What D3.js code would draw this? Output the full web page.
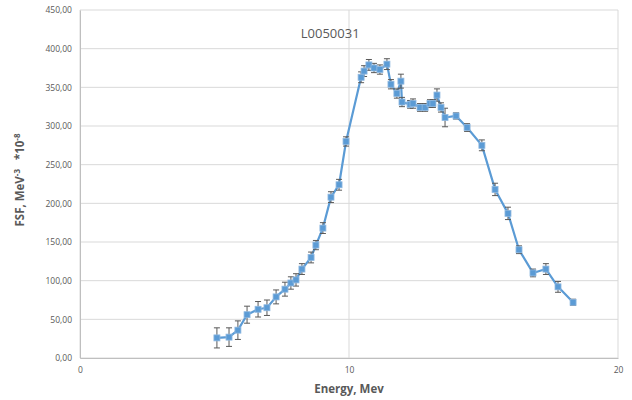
<!DOCTYPE html>
<html>
<head>
<meta charset="utf-8">
<script src="https://cdn.jsdelivr.net/npm/d3@7"></script>
<style>
  body { margin: 0; background: #fff; }
  text { font-family: "Open Sans", "Liberation Sans", sans-serif; }
</style>
</head>
<body>
<div class="chart"></div>
<script>
// data
const energy = [5.09, 5.54, 5.87, 6.21, 6.62, 6.95, 7.29, 7.62, 7.84, 8.03, 8.25, 8.59, 8.77, 9.03, 9.33, 9.63, 9.89,
    10.45, 10.56, 10.74, 10.93, 11.15, 11.41, 11.56, 11.78, 11.93, 11.97, 12.27, 12.38, 12.64, 12.83, 13.01, 13.12,
    13.27, 13.42, 13.57, 13.98, 14.39, 14.94, 15.43, 15.91, 16.32, 16.84, 17.32, 17.77, 18.33];
const fsf = [26, 27, 36, 56, 63, 65, 79, 89, 97, 101, 115, 130, 146, 168, 208, 224, 280,
    363, 371, 379, 375, 373, 380, 354, 342, 358, 331, 328, 329, 324, 324, 329, 329,
    340, 324, 311, 313, 298, 275, 218, 187, 140, 110, 115, 92, 72];
const err = [13, 12, 12, 11, 10, 10, 9, 9, 8, 8, 7, 7, 6, 7, 7, 7, 6,
    7, 7, 7, 6, 6, 7, 6, 6, 9, 6, 5, 6, 5, 5, 5, 5,
    8, 6, 12, 4, 5, 7, 8, 8, 5, 5, 7, 7, 4];
const yTicks = [0, 50, 100, 150, 200, 250, 300, 350, 400, 450];
const xTicks = [0, 10, 20];

const margin = {top: 10, left: 80, right: 14, bottom: 42};
const width = 632 - margin.left - margin.right;
const height = 400 - margin.top - margin.bottom;

const data = energy.map((e, i) => ({e: e, v: fsf[i], err: err[i]}));

const svg = d3.select(".chart").append("svg")
    .attr("width", 632)
    .attr("height", 400)
    .append("g")
    .attr("transform", "translate(" + margin.left + "," + margin.top + ")");

const xScale = d3.scaleLinear().domain([0, 20]).range([0, width]);
const yScale = d3.scaleLinear().domain([0, 450]).range([height, 0]);

// gridlines
svg.append("g").selectAll("line").data(yTicks).join("line")
    .attr("x1", 0).attr("x2", width)
    .attr("y1", d => yScale(d)).attr("y2", d => yScale(d))
    .attr("stroke", "#d9d9d9").attr("stroke-width", 1);

svg.append("g").selectAll("line").data(xTicks).join("line")
    .attr("x1", d => xScale(d)).attr("x2", d => xScale(d))
    .attr("y1", 0).attr("y2", height)
    .attr("stroke", "#d9d9d9").attr("stroke-width", 1);

// axes
const fmt = d => d3.format(".2f")(d).replace(".", ",");
const yAxis = d3.axisLeft(yScale).tickValues(yTicks).tickFormat(fmt).tickSize(0).tickPadding(8);
const xAxis = d3.axisBottom(xScale).tickValues(xTicks).tickFormat(d3.format("d")).tickSize(0).tickPadding(9);

svg.append("g").attr("class", "axis y-axis").call(yAxis);
svg.append("g").attr("class", "axis x-axis")
    .attr("transform", `translate(0, ${height})`).call(xAxis);

svg.selectAll(".axis path").attr("stroke", "#bfbfbf");
svg.selectAll(".axis text").attr("fill", "#595959").attr("font-size", 8.5)
    .attr("font-family", "'Open Sans', sans-serif");

// line
const line = d3.line()
    .x(d => xScale(d.e))
    .y(d => yScale(d.v));

svg.append("path")
    .datum(data)
    .attr("d", line)
    .attr("fill", "none")
    .attr("stroke", "#5b9bd5")
    .attr("stroke-width", 2.2)
    .attr("stroke-linejoin", "round");

// error bars
const eb = svg.append("g").selectAll("g").data(data).join("g")
    .attr("stroke", "#595959").attr("stroke-width", 1);
eb.append("line")
    .attr("x1", d => xScale(d.e)).attr("x2", d => xScale(d.e))
    .attr("y1", d => yScale(d.v - d.err)).attr("y2", d => yScale(d.v + d.err));
eb.append("line")
    .attr("x1", d => xScale(d.e) - 3).attr("x2", d => xScale(d.e) + 3)
    .attr("y1", d => yScale(d.v - d.err)).attr("y2", d => yScale(d.v - d.err));
eb.append("line")
    .attr("x1", d => xScale(d.e) - 3).attr("x2", d => xScale(d.e) + 3)
    .attr("y1", d => yScale(d.v + d.err)).attr("y2", d => yScale(d.v + d.err));

// markers
svg.append("g").selectAll("rect").data(data).join("rect")
    .attr("x", d => xScale(d.e) - 3)
    .attr("y", d => yScale(d.v) - 3)
    .attr("width", 6).attr("height", 6)
    .attr("fill", "#5b9bd5")
    .attr("stroke", "#8fb8e0")
    .attr("stroke-width", 0.8);

// title
svg.append("text")
    .attr("x", xScale(9.3))
    .attr("y", 28)
    .attr("text-anchor", "middle")
    .attr("font-size", 13)
    .attr("fill", "#595959")
    .text("L0050031");

// axis labels
svg.append("text")
    .attr("x", width / 2)
    .attr("y", height + 35)
    .attr("text-anchor", "middle")
    .attr("font-size", 11.5)
    .attr("font-weight", 700)
    .attr("fill", "#595959")
    .text("Energy, Mev");

const labelY = svg.append("text")
    .attr("transform", `translate(${-56}, ${170}) rotate(-90)`)
    .attr("text-anchor", "middle")
    .attr("font-size", 11.5)
    .attr("font-weight", 700)
    .attr("fill", "#595959");
labelY.append("tspan").text("FSF, MeV");
labelY.append("tspan").attr("dy", -4).attr("font-size", 8).text("-3");
labelY.append("tspan").attr("dy", 4).attr("xml:space", "preserve").text("\u00a0\u00a0 *10");
labelY.append("tspan").attr("dy", -4).attr("font-size", 8).text("-8");
</script>
</body>
</html>
